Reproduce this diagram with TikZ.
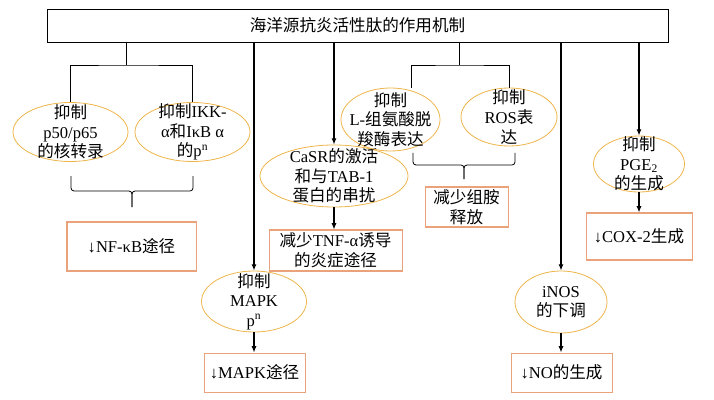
\documentclass[tikz,border=0pt]{standalone}
\usepackage{fontspec}
\setmainfont{Liberation Serif}
\newfontfamily\cjk{Noto Sans CJK SC}
\newcommand{\zh}[1]{{\cjk #1}}
\usetikzlibrary{shapes.geometric, arrows.meta}
\definecolor{ellcol}{HTML}{EDB54C}
\definecolor{boxcol}{HTML}{E9A27A}

\begin{document}
\begin{tikzpicture}[x = 0.35mm, y = -0.35mm, font = \fontsize{16.5}{19.5}\selectfont,
    mech/.style = {draw = ellcol, line width = 0.8pt, ellipse, inner sep = 0pt},
    txt/.style = {align = center, inner sep = 0pt},
    res/.style = {draw = boxcol, line width = 1pt, align = center, inner sep = 0pt},
    arr/.style = {line width = 1.6pt, -{Latex[length = 2.2mm, width = 1.8mm]}},
    brk/.style = {line width = 0.8pt}]
    \useasboundingbox (0,0) rectangle (714,400);

    \node[draw, line width = 0.8pt, minimum width = 217.4mm, minimum height = 11.55mm] (title) at (357.5,25.5) {\zh{海洋源抗炎活性肽的作用机制}};

    % NF-kB branch
    \node[mech, minimum width = 40.25mm, minimum height = 20.65mm] (p50) at (70.5,132) {};
    \node[txt] (p50t) at (p50) {\zh{抑制}\\p50/p65\\\zh{的核转录}};
    \node[mech, minimum width = 40.25mm, minimum height = 20.65mm] (ikk) at (192.5,132) {};
    \node[txt] (ikkt) at (ikk) {\zh{抑制}IKK-\\α\zh{和}IκB α\\\zh{的}p\textsuperscript{n}};
    \coordinate (j1) at (126,65);
    \draw[brk] (title.south -| j1) -- (j1);
    \draw[brk] (p50.north) |- (j1) -| (ikk.north);
    \draw[brk, rounded corners = 3pt] (71,176) |- (132,191) -- (132,207);
    \draw[brk, rounded corners = 3pt] (193,176) |- (132,191) -- (132,207);
    \node[res, minimum width = 45.15mm, minimum height = 17.15mm] (nfkb) at (131.5,246.5) {↓NF-κB\zh{途径}};

    % MAPK branch
    \node[mech, minimum width = 36.75mm, minimum height = 21.35mm] (mapk) at (254,301.5) {};
    \node[txt] (mapkt) at (mapk) {\zh{抑制}\\MAPK\\p\textsuperscript{n}};
    \node[res, minimum width = 35.35mm, minimum height = 13.65mm] (mapkr) at (254.5,372.5) {↓MAPK\zh{途径}};
    \draw[arr] (title.south -| mapk) -- (mapk.north);
    \draw[arr] (mapk.south) -- (mapk.south |- mapkr.north);

    % CaSR branch
    \node[mech, minimum width = 51.8mm, minimum height = 21.7mm] (casr) at (334,176) {};
    \node[txt] (casrt) at (casr) {CaSR\zh{的激活}\\\zh{和与}TAB-1\\\zh{蛋白的串扰}};
    \node[res, minimum width = 46.55mm, minimum height = 14.35mm] (tnf) at (335.5,250.5) {\zh{减少}TNF-α\zh{诱导}\\\zh{的炎症途径}};
    \draw[arr] (title.south -| casr) -- (casr.north);
    \draw[arr] (casr.south) -- (casr.south |- tnf.north);

    % histamine / ROS branch
    \node[mech, minimum width = 34.65mm, minimum height = 22.05mm] (hdc) at (390.5,119.5) {};
    \node[txt] (hdct) at (hdc) {\zh{抑制}\\L-\zh{组氨酸脱}\\\zh{羧酶表达}};
    \node[mech, minimum width = 33.6mm, minimum height = 20.3mm] (ros) at (509,117) {};
    \node[txt] (rost) at (ros) {\zh{抑制}\\ROS\zh{表}\\\zh{达}};
    \coordinate (j3) at (459,65);
    \coordinate (l3) at (411,65);
    \draw[brk] (title.south -| j3) -- (j3);
    \draw[brk] (hdc.north -| l3) |- (j3) -| (ros.north);
    \draw[brk, rounded corners = 3pt] (413,153) |- (464,165) -- (464,179);
    \draw[brk, rounded corners = 3pt] (515,153) |- (464,165) -- (464,179);
    \node[res, minimum width = 29.05mm, minimum height = 14mm] (hist) at (466.5,207) {\zh{减少组胺}\\\zh{释放}};

    % iNOS branch
    \node[mech, minimum width = 32.2mm, minimum height = 21.7mm] (inos) at (561,302) {};
    \node[txt] (inost) at (inos) {iNOS\\\zh{的下调}};
    \node[res, minimum width = 35.35mm, minimum height = 13.65mm] (no) at (561.5,372.5) {↓NO\zh{的生成}};
    \draw[arr] (title.south -| inos) -- (inos.north);
    \draw[arr] (inos.south) -- (inos.south |- no.north);

    % PGE2 branch
    \node[mech, minimum width = 31.85mm, minimum height = 19.6mm] (pge) at (639,164) {};
    \node[txt] (pget) at (pge) {\zh{抑制}\\PGE\textsubscript{2}\\\zh{的生成}};
    \node[res, minimum width = 37.1mm, minimum height = 16.45mm] (cox) at (639,236.5) {↓COX-2\zh{生成}};
    \draw[arr] (title.south -| pge) -- (pge.north);
    \draw[arr] (pge.south) -- (pge.south |- cox.north);
\end{tikzpicture}
\end{document}
